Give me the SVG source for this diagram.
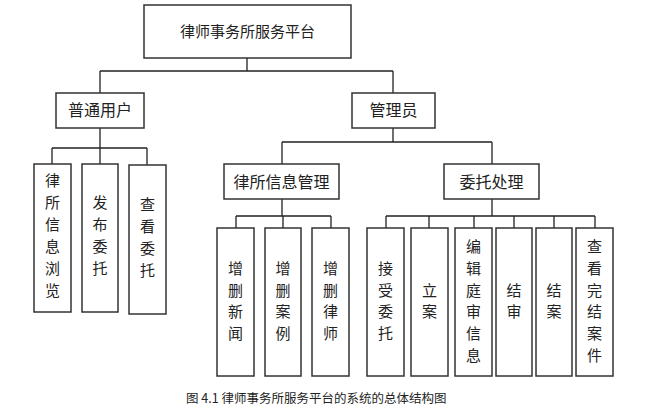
<svg xmlns="http://www.w3.org/2000/svg" width="666" height="415" viewBox="0 0 666 415">
<style>
rect{fill:#fff;stroke:#333;stroke-width:1.5}
.c{fill:none;stroke:#222;stroke-width:1.3}
text{font-family:"Noto Sans CJK SC","Liberation Serif",serif;font-size:15px;fill:#222;text-anchor:middle}
.h{font-size:16px}
.cap{font-size:12.5px;text-anchor:start}
</style>
<rect width="666" height="415" style="fill:#fff;stroke:none"/>
<g id="connectors">
<path class="c" d="M247 58V71M100 71H393M100 71V93M393 71V93"/>
<path class="c" d="M100 128V148M52 148H147M52 148V164M100 148V164M147 148V165"/>
<path class="c" d="M393 128V142M282 142H492M282 142V164M492 142V164"/>
<path class="c" d="M282 199V216M236 216H331M236 216V228M283 216V228M331 216V228"/>
<path class="c" d="M492 199V216M386 216H595M386 216V228M429 216V228M474 216V228M514 216V228M554 216V228M595 216V228"/>
</g>
<g id="root"><rect x="144" y="5" width="207" height="53"/><text x="247.5" y="37" font-size="17">律师事务所服务平台</text></g>
<g id="user"><rect x="56" y="93" width="88" height="35"/><text class="h" x="100" y="116">普通用户</text></g>
<g id="admin"><rect x="352" y="93" width="83" height="35"/><text class="h" x="393.5" y="116">管理员</text></g>
<g id="leaf1"><rect x="34" y="164" width="37" height="148"/><text x="52.5" y="186">律</text><text x="52.5" y="208">所</text><text x="52.5" y="230">信</text><text x="52.5" y="252">息</text><text x="52.5" y="274">浏</text><text x="52.5" y="296">览</text></g>
<g id="leaf2"><rect x="82" y="164" width="36" height="148"/><text x="100" y="208">发</text><text x="100" y="230">布</text><text x="100" y="252">委</text><text x="100" y="274">托</text></g>
<g id="leaf3"><rect x="129" y="165" width="37" height="149"/><text x="147.5" y="210">查</text><text x="147.5" y="232">看</text><text x="147.5" y="254">委</text><text x="147.5" y="276">托</text></g>
<g id="lawinfo"><rect x="224" y="164" width="115" height="35"/><text class="h" x="281.5" y="188">律所信息管理</text></g>
<g id="entrust"><rect x="444" y="164" width="95" height="35"/><text class="h" x="491.5" y="188">委托处理</text></g>
<g id="m1"><rect x="217" y="228" width="37" height="148"/><text x="235.5" y="274">增</text><text x="235.5" y="296">删</text><text x="235.5" y="317">新</text><text x="235.5" y="339">闻</text></g>
<g id="m2"><rect x="265" y="228" width="36" height="148"/><text x="283" y="274">增</text><text x="283" y="296">删</text><text x="283" y="317">案</text><text x="283" y="339">例</text></g>
<g id="m3"><rect x="312" y="228" width="37" height="148"/><text x="330.5" y="274">增</text><text x="330.5" y="296">删</text><text x="330.5" y="317">律</text><text x="330.5" y="339">师</text></g>
<g id="e1"><rect x="367" y="228" width="37" height="148"/><text x="385.5" y="274">接</text><text x="385.5" y="296">受</text><text x="385.5" y="317">委</text><text x="385.5" y="339">托</text></g>
<g id="e2"><rect x="411" y="228" width="37" height="148"/><text x="429.5" y="296">立</text><text x="429.5" y="317">案</text></g>
<g id="e3"><rect x="455" y="228" width="37" height="148"/><text x="473.5" y="252">编</text><text x="473.5" y="274">辑</text><text x="473.5" y="296">庭</text><text x="473.5" y="317">审</text><text x="473.5" y="339">信</text><text x="473.5" y="361">息</text></g>
<g id="e4"><rect x="496" y="228" width="36" height="148"/><text x="514" y="296">结</text><text x="514" y="317">审</text></g>
<g id="e5"><rect x="536" y="228" width="36" height="148"/><text x="554" y="296">结</text><text x="554" y="317">案</text></g>
<g id="e6"><rect x="576" y="228" width="37" height="148"/><text x="594.5" y="252">查</text><text x="594.5" y="274">看</text><text x="594.5" y="296">完</text><text x="594.5" y="317">结</text><text x="594.5" y="339">案</text><text x="594.5" y="361">件</text></g>
<text class="cap" x="186" y="403">图 4.1 律师事务所服务平台的系统的总体结构图</text>
</svg>
